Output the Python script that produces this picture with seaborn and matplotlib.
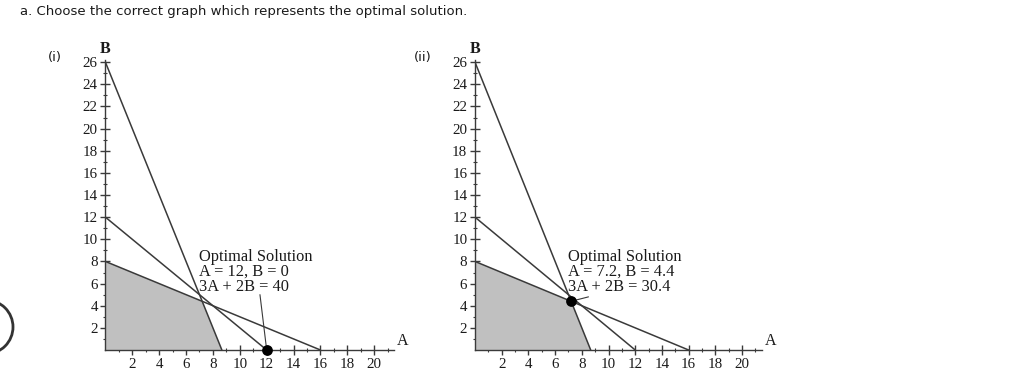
import numpy as np
import pandas as pd
import matplotlib
matplotlib.use("Agg")
import matplotlib.pyplot as plt
from matplotlib.patches import Ellipse
import seaborn as sns

# constraints given by their intercepts on the A and B axes
a_intercepts = [26 / 3, 12, 16]
b_intercepts = [26, 12, 8]

# feasible region corners (A, B)
region_a = [0, 0, 7.2, 26 / 3]
region_b = [0, 8, 4.4, 0]

# optimal point shown in each panel
panel_names = ["(i)", "(ii)"]
opt_a = [12, 7.2]
opt_b = [0, 4.4]
opt_text = [["Optimal Solution", "A = 12, B = 0", "3A + 2B = 40"],
            ["Optimal Solution", "A = 7.2, B = 4.4", "3A + 2B = 30.4"]]
leader_from = [(11.5, 5.0), (8.5, 4.8)]

x_ticks = [2, 4, 6, 8, 10, 12, 14, 16, 18, 20]
y_ticks = [2, 4, 6, 8, 10, 12, 14, 16, 18, 20, 22, 24, 26]

sns.set_theme(style="white")
plt.rcParams["font.family"] = ["Liberation Serif", "DejaVu Serif"]

W, H = 1024, 381
fig = plt.figure(figsize=(W / 100, H / 100), dpi=100)

line_col = "#3a3a3a"
txt_col = "#1a1a1a"
xmax, ymax = 21.5, 26.2

# (left pixel of y axis, px per unit on A)
panel_px = [(105.4, 13.44), (475.0, 13.35)]
y0_px, ypu = 350.0, 11.07

for k, ax_name in enumerate(panel_names):
    x0, xpu = panel_px[k]
    ax = fig.add_axes([x0 / W, (H - y0_px) / H, xmax * xpu / W, ymax * ypu / H])
    ax.set_xlim(0, xmax)
    ax.set_ylim(0, ymax)
    ax.patch.set_alpha(0)

    ax.fill(region_a, region_b, color="#c0c0c0", zorder=1, lw=0)

    for ai, bi in zip(a_intercepts, b_intercepts):
        seg = pd.DataFrame({"A": [0, ai], "B": [bi, 0]})
        sns.lineplot(data=seg, x="A", y="B", ax=ax, color=line_col, lw=1.1,
                     zorder=3, sort=False, estimator=None)

    # leader line from text to point
    ax.plot([leader_from[k][0], opt_a[k]], [leader_from[k][1], opt_b[k]],
            color=line_col, lw=0.8, zorder=3)
    sns.scatterplot(x=[opt_a[k]], y=[opt_b[k]], ax=ax, color="black", s=60,
                    zorder=5, clip_on=False, edgecolor="black", linewidth=0)

    for j, t in enumerate(opt_text[k]):
        ax.text(7.0, 8.4 - j * 1.35, t, fontsize=11.8, color=txt_col,
                va="center", ha="left", zorder=6)

    for s in ["top", "right"]:
        ax.spines[s].set_visible(False)
    for s in ["left", "bottom"]:
        ax.spines[s].set_color(line_col)
        ax.spines[s].set_linewidth(1.0)
        ax.spines[s].set_zorder(4)

    ax.set_xticks(x_ticks)
    ax.set_yticks(y_ticks)
    ax.set_xticks(np.arange(1, 22, 1), minor=True)
    ax.set_yticks(np.arange(1, 27, 1), minor=True)
    ax.tick_params(which="major", direction="inout", length=7, width=1.0,
                   color=line_col, labelsize=10.8, labelcolor=txt_col, pad=2,
                   bottom=True, left=True)
    ax.tick_params(which="minor", direction="inout", length=3, width=0.8,
                   color=line_col, bottom=True, left=True)
    ax.set_xlabel("")
    ax.set_ylabel("")
    ax.grid(False)

    ax.text(0, ymax + 0.3, "B", fontsize=11.5, fontweight="bold",
            ha="center", va="bottom", color=txt_col)
    ax.text(xmax + 0.2, 0.1, "A", fontsize=11.5, ha="left", va="bottom",
            color=txt_col)

    fig.text((x0 - 58 if k == 0 else x0 - 61) / W, 1 - 57 / H, ax_name,
             family="DejaVu Sans", fontsize=9.5, ha="left", va="center",
             color=txt_col)

fig.text(20 / W, 1 - 11 / H, "a. Choose the correct graph which represents the optimal solution.",
         family="DejaVu Sans", fontsize=9.5, ha="left", va="center", color=txt_col)

# radio button cut at the left edge
fig.patches.append(Ellipse((-14 / W, 1 - 327 / H), 54 / W, 54 / H,
                           transform=fig.transFigure, fill=False, lw=2,
                           ec="#333333"))

fig.savefig("out.png", dpi=100)
